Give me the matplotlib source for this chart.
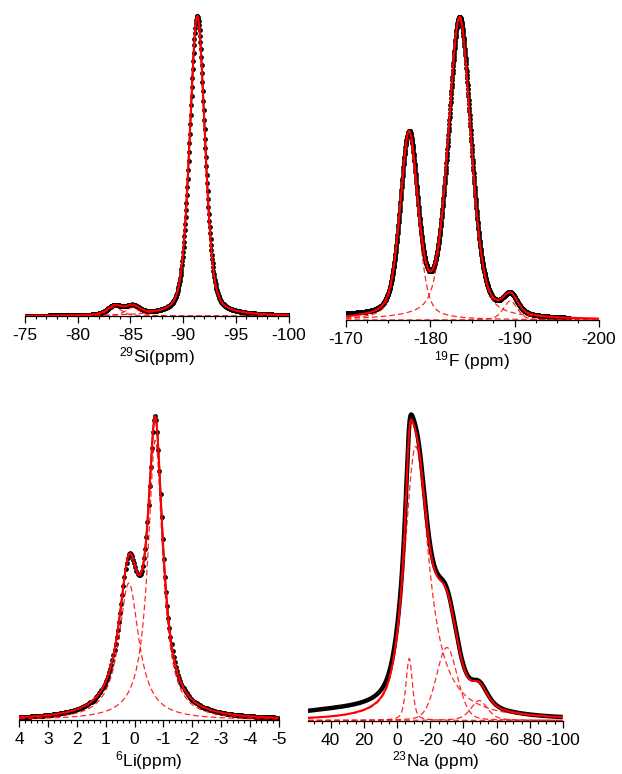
import numpy as np
import matplotlib
matplotlib.use("Agg")
from matplotlib import pyplot as plt
from matplotlib.ticker import MultipleLocator

plt.rcParams['font.family'] = ['Liberation Sans', 'DejaVu Sans']
plt.rcParams['axes.unicode_minus'] = False

# peak parameters (intensity in arbitrary units ~ pixels)
# 29Si
si_center = [-91.35, -83.5, -85.2]
si_height = [300, 9, 8.5]
si_hwhm = [0.85, 0.8, 0.8]
si_eta = [0.35, 0.5, 0.5]

# 19F
f_center = [-177.5, -183.5, -189.5]
f_height = [181, 300, 19]
f_hwhm = [1.25, 1.6, 1.0]
f_eta = [0.4, 0.4, 0.4]
f_base = [-170, 3, 3]          # extra offset seen in data only (center, height, hwhm)

# 6Li
li_center = [0.2, -0.72]
li_height = [137, 280]
li_hwhm = [0.42, 0.31]
li_eta = [1.0, 1.0]

# 23Na (big site asymmetric)
na_center = [-7.3, -11.2, -30, -49.5]
na_height = [62, 274, 73, 20]
na_hwhm_l = [2.3, 8.0, 7.5, 6]
na_hwhm_r = [2.3, 9.5, 7.5, 6]
na_eta_l = [0.5, 0.6, 0.2, 0.5]
na_eta_r = [0.5, 1.0, 0.2, 0.5]
na_base = [30, 8.5, 45]

si_range = [-75, -100]
f_range = [-170, -196.5]
f_fit_range = [-170, -200]
li_range = [4, -5]
na_range = [53.7, -100]


def peak(x, c, h, wl, wr, el, er):
    # pseudo-voigt, left = higher ppm
    w = np.where(x > c, wl, wr)
    eta = np.where(x > c, el, er)
    d = (x - c) / w
    return h * (eta / (1 + d ** 2) + (1 - eta) * np.exp(-np.log(2) * d ** 2))


def comps(x, cen, hei, wl, wr=None, el=None, er=None):
    wr = wl if wr is None else wr
    er = el if er is None else er
    return [peak(x, cen[i], hei[i], wl[i], wr[i], el[i], er[i]) for i in range(len(cen))]


fig = plt.figure(figsize=(6.22, 7.74), dpi=100)
W, H = 622.0, 774.0


def make_ax(x0, x1, yaxis, ytop):
    ax = fig.add_axes([x0 / W, 1 - yaxis / H, (x1 - x0) / W, (yaxis - ytop) / H])
    for s in ['left', 'right', 'top']:
        ax.spines[s].set_visible(False)
    ax.spines['bottom'].set_linewidth(0.9)
    ax.set_yticks([])
    ax.tick_params(axis='x', which='major', direction='out', length=5, width=0.9,
                   labelsize=12.5, pad=4)
    ax.tick_params(axis='x', which='minor', direction='out', length=2.5, width=0.8)
    ax.set_ylim(0, yaxis - ytop)
    ax.patch.set_alpha(0)
    return ax


def draw(ax, x, parts, data, xfit=None, fitparts=None, dots=True):
    if dots:
        ax.plot(x, data, color='black', lw=1.2, marker='o', ms=3.0, mew=0.4, zorder=2)
    else:
        ax.plot(x, data, color='black', lw=3.2, zorder=2, solid_capstyle='butt')
    if xfit is None:
        xfit, fitparts = x, parts
    for p in fitparts:
        ax.plot(xfit, p, color='red', lw=0.9, ls=(0, (4.5, 2.5)), alpha=0.85, zorder=3)
    ax.plot(xfit, np.sum(fitparts, axis=0), color='red', lw=1.5, zorder=4)


# 29Si
ax = make_ax(25, 288.5, 316, 5)
x = np.arange(si_range[0], si_range[1] - 0.001, -0.04)
parts = comps(x, si_center, si_height, si_hwhm, el=si_eta)
draw(ax, x, parts, np.sum(parts, axis=0))
ax.set_xlim(-75, -100)
ax.xaxis.set_major_locator(MultipleLocator(5))
ax.xaxis.set_minor_locator(MultipleLocator(1))
ax.set_xlabel(r'$\mathregular{^{29}}$Si(ppm)', fontsize=12.5, labelpad=1)

# 19F
ax = make_ax(345.7, 599, 320, 5)
x = np.arange(f_range[0], f_range[1] - 0.001, -0.03)
xf = np.arange(f_fit_range[0], f_fit_range[1] - 0.001, -0.03)
parts = comps(x, f_center, f_height, f_hwhm, el=f_eta)
fparts = comps(xf, f_center, f_height, f_hwhm, el=f_eta)
data = np.sum(parts, axis=0) + peak(x, f_base[0], f_base[1], f_base[2], f_base[2], 0, 0)
draw(ax, x, parts, data, xf, fparts)
ax.set_xlim(-170, -200)
ax.xaxis.set_major_locator(MultipleLocator(10))
ax.xaxis.set_minor_locator(MultipleLocator(2.5))
ax.set_xlabel(r'$\mathregular{^{19}}$F (ppm)', fontsize=12.5, labelpad=1)

# 6Li
ax = make_ax(19.3, 278.7, 720, 400)
x = np.arange(li_range[0], li_range[1] - 0.001, -0.038)
parts = comps(x, li_center, li_height, li_hwhm, el=li_eta)
draw(ax, x, parts, np.sum(parts, axis=0))
ax.set_xlim(4, -5)
ax.xaxis.set_major_locator(MultipleLocator(1))
ax.xaxis.set_minor_locator(MultipleLocator(0.2))
ax.set_xlabel(r'$\mathregular{^{6}}$Li(ppm)', fontsize=12.5, labelpad=1)

# 23Na
ax = make_ax(308, 563, 720.5, 400)
x = np.arange(na_range[0], na_range[1] - 0.001, -0.25)
parts = comps(x, na_center, na_height, na_hwhm_l, na_hwhm_r, na_eta_l, na_eta_r)
data = np.sum(parts, axis=0) + peak(x, na_base[0], na_base[1], na_base[2], na_base[2], 0, 0)
draw(ax, x, parts, data, dots=False)
ax.set_xlim(na_range[0], na_range[1])
ax.xaxis.set_major_locator(MultipleLocator(20))
ax.xaxis.set_minor_locator(MultipleLocator(5))
ax.set_xlabel(r'$\mathregular{^{23}}$Na (ppm)', fontsize=12.5, labelpad=1)

fig.savefig('out.png', dpi=100)
